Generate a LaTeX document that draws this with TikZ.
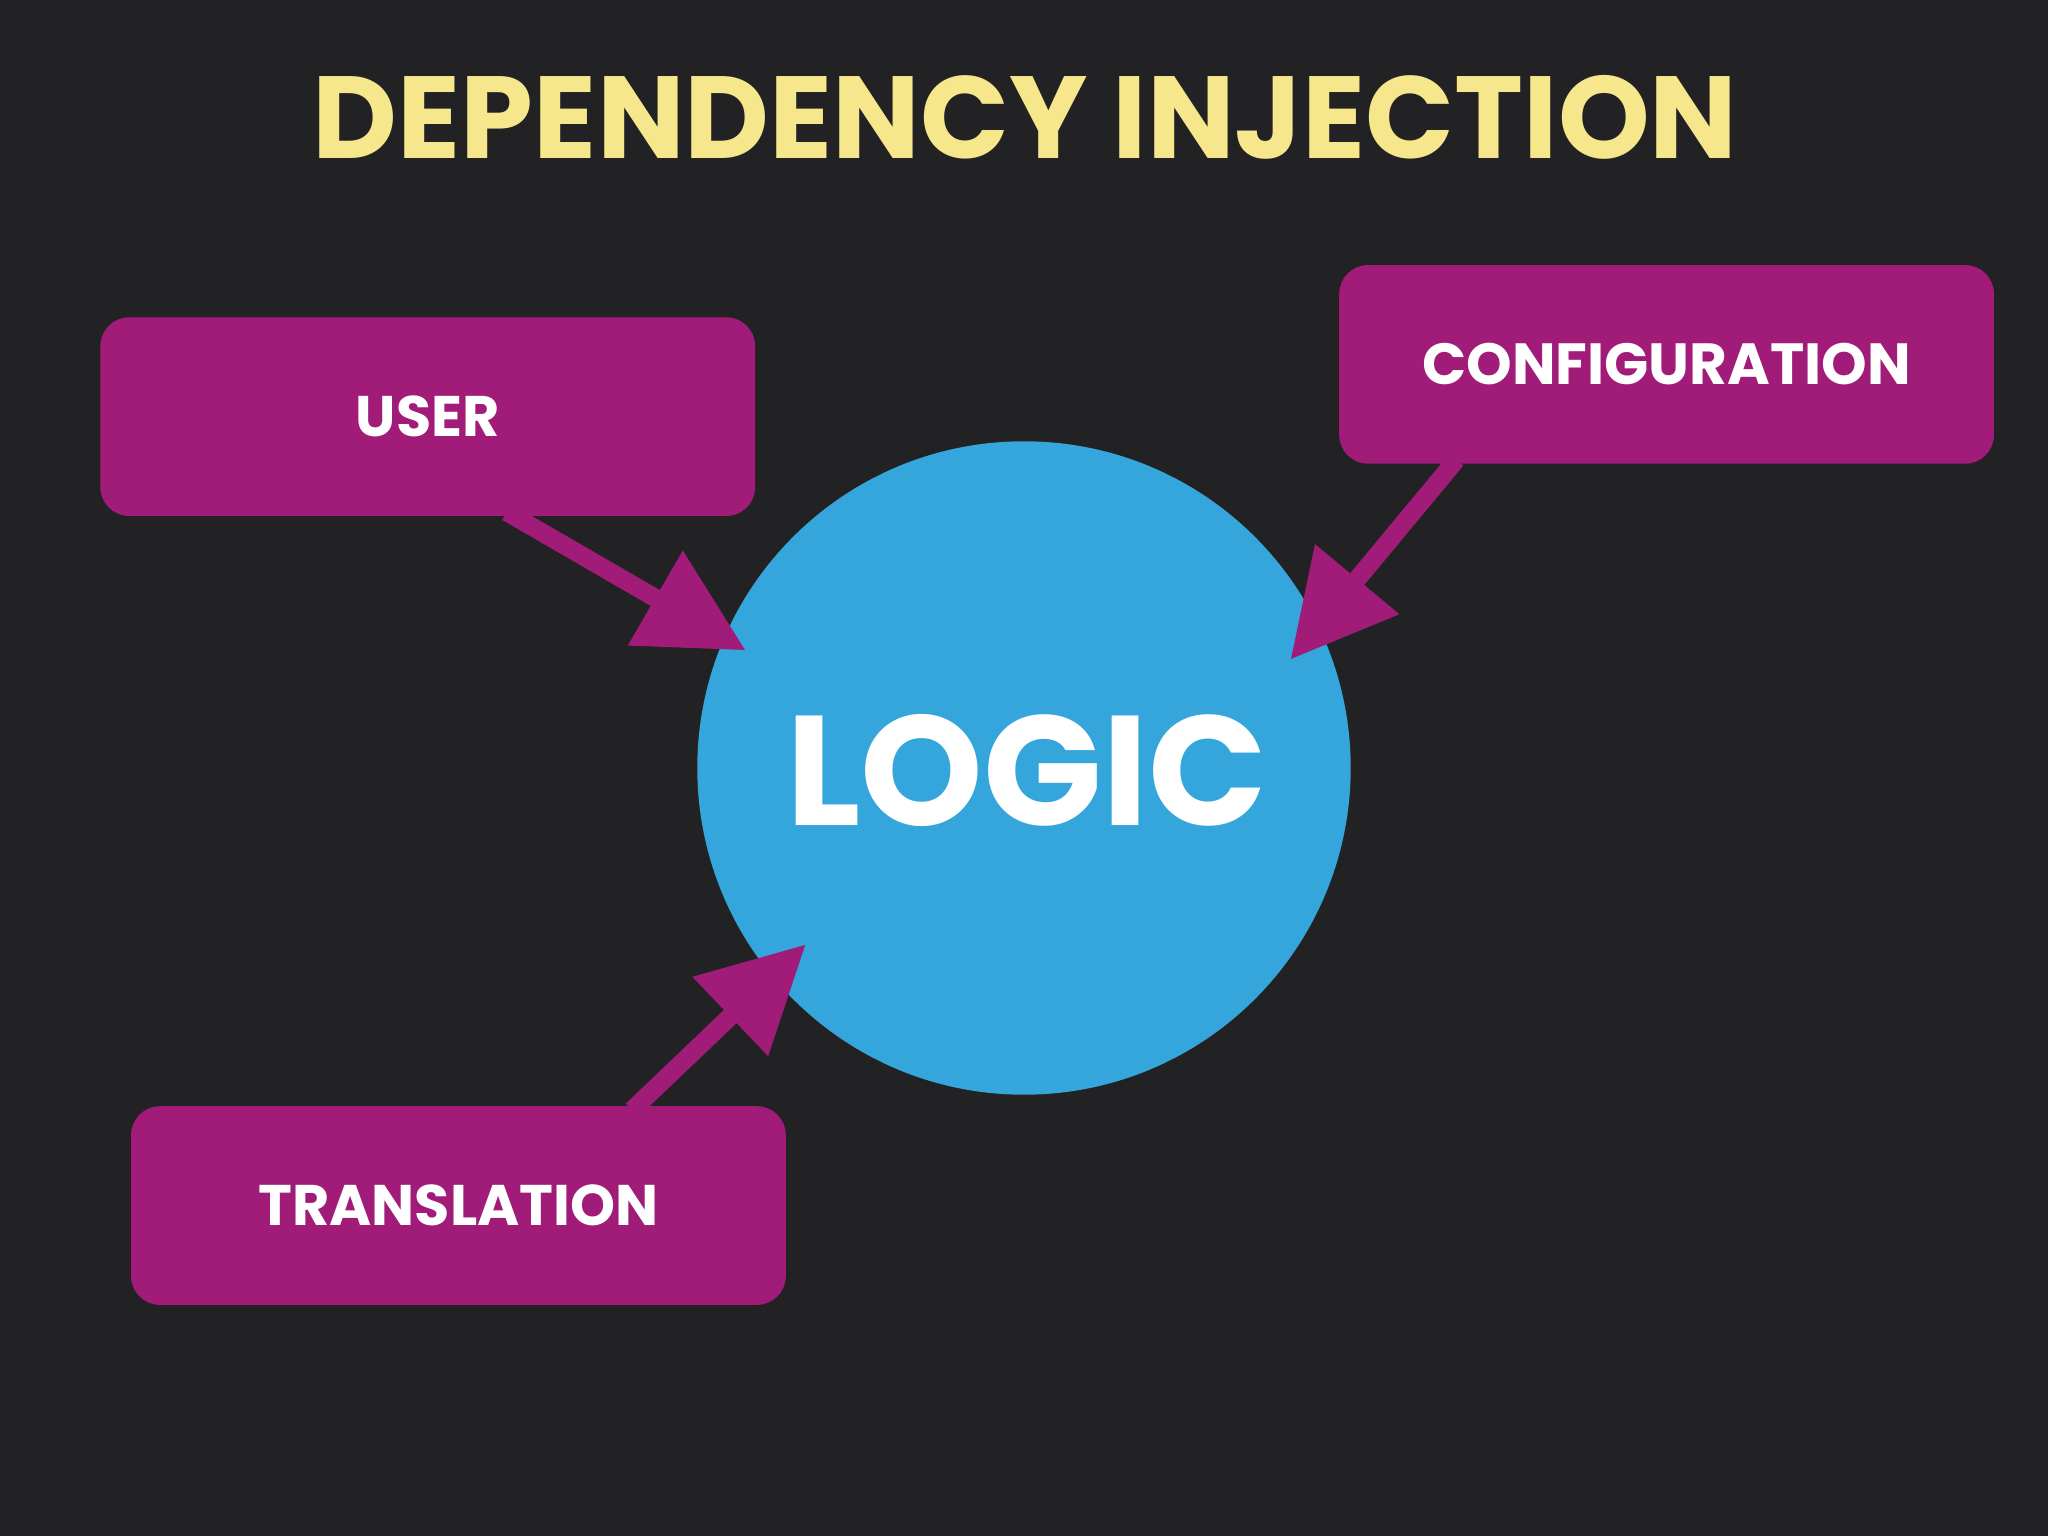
\documentclass[tikz,border=0pt]{standalone}
\usepackage{fontspec}
\setmainfont{Poppins}
\usetikzlibrary{arrows.meta}
\definecolor{bg}{HTML}{222224}
\definecolor{mag}{HTML}{A01C78}
\definecolor{blu}{HTML}{35A6DC}
\definecolor{yel}{HTML}{F6E68C}
\tikzset{
  box/.style={fill=mag, rounded corners=0.22cm, minimum width=5.01cm, minimum height=1.52cm, inner sep=0pt},
  lbl/.style={text=white, font=\bfseries},
  conn/.style={draw=mag, line width=0.14cm, -{Triangle[length=0.8cm,width=0.8cm]}}
}
\begin{document}
\begin{tikzpicture}[x=0.01cm,y=-0.01cm]
\fill[bg] (0,0) rectangle (1568,1176);
\useasboundingbox (0,0) rectangle (1568,1176);
\node[text=yel, font=\bfseries] (title) at (785,90) {\resizebox{10.9cm}{!}{DEPENDENCY INJECTION}};
\node[circle, fill=blu, minimum size=5cm, inner sep=0pt] (logic) at (784,588) {};
\node[lbl] (logictxt) at (786,590) {\resizebox{3.68cm}{!}{LOGIC}};
\node[box] (user) at (327.5,319) {};
\node[lbl] at (user.center) {\resizebox{1.1cm}{!}{USER}};
\node[box] (config) at (1276,279) {};
\node[lbl] at (config.center) {\resizebox{3.74cm}{!}{CONFIGURATION}};
\node[box] (trans) at (351,923) {};
\node[lbl] at (trans.center) {\resizebox{3.06cm}{!}{TRANSLATION}};
\coordinate (u0) at (388,392);
\coordinate (u1) at (571,498);
\coordinate (c0) at (1115,352);
\coordinate (c1) at (988,505);
\coordinate (t0) at (484,850);
\coordinate (t1) at (617,723);
\draw[conn] (u0) -- (u1);
\draw[conn] (c0) -- (c1);
\draw[conn] (t0) -- (t1);
\end{tikzpicture}
\end{document}
